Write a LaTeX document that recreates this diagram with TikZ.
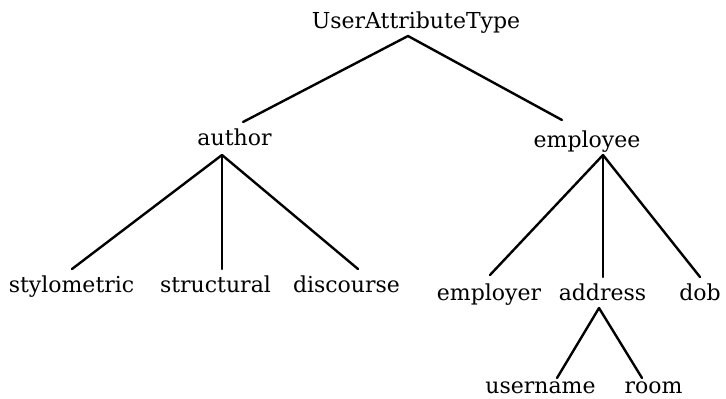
\documentclass[tikz,border=0pt]{standalone}
\usepackage{fontspec}
\setmainfont{DejaVu Serif}
\begin{document}
\begin{tikzpicture}[x=1pt,y=-1pt,
  lbl/.style={anchor=base, inner sep=0pt, font=\fontsize{22}{26}\selectfont},
  link/.style={line width=2.4pt, line cap=round}]
\useasboundingbox (0,0) rectangle (726,399);
\node[lbl] (root) at (416,28) {UserAttributeType};
\node[lbl] (author) at (234.5,145) {author};
\node[lbl] (employee) at (587,147) {employee};
\node[lbl] (stylometric) at (71.5,292) {stylometric};
\node[lbl] (structural) at (215.5,292) {structural};
\node[lbl] (discourse) at (346.5,292) {discourse};
\node[lbl] (employer) at (489,300) {employer};
\node[lbl] (address) at (602.5,300) {address};
\node[lbl] (dob) at (700,300) {dob};
\node[lbl] (username) at (540.5,393) {username};
\node[lbl] (room) at (653.5,393) {room};
\draw[link] ([shift={(8.5,-23)}]author.base) -- ([shift={(-8,8)}]root.base) -- ([shift={(-25,-27)}]employee.base);
\draw[link] ([shift={(-12.5,10)}]author.base) -- ([shift={(0.5,-23)}]stylometric.base);
\draw[link] ([shift={(-12.5,10)}]author.base) -- ([shift={(6.5,-23)}]structural.base);
\draw[link] ([shift={(-12.5,10)}]author.base) -- ([shift={(11.5,-23)}]discourse.base);
\draw[link] ([shift={(16,8)}]employee.base) -- ([shift={(1,-25)}]employer.base);
\draw[link] ([shift={(16,8)}]employee.base) -- ([shift={(0.5,-23)}]address.base);
\draw[link] ([shift={(16,8)}]employee.base) -- ([shift={(0,-23)}]dob.base);
\draw[link] ([shift={(-3.5,8)}]address.base) -- ([shift={(16.5,-15)}]username.base);
\draw[link] ([shift={(-3.5,8)}]address.base) -- ([shift={(-11.5,-15)}]room.base);
\end{tikzpicture}
\end{document}
